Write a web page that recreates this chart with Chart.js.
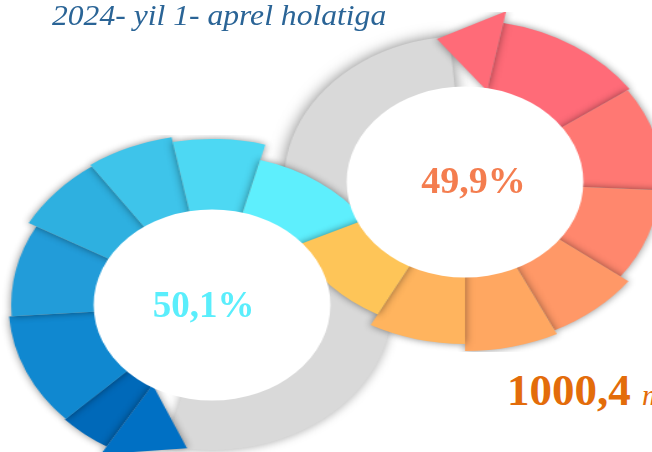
<!DOCTYPE html>
<html><head><meta charset="utf-8">
<script src="https://cdn.jsdelivr.net/npm/chart.js@4.4.0/dist/chart.umd.min.js"></script>
<style>
html,body{margin:0;padding:0;background:#fff;width:652px;height:452px;overflow:hidden;position:relative;}
.layer{position:absolute;width:340px;height:340px;transform:scaleX(1.24);transform-origin:50% 50%;}
.layer canvas{display:block;}
.left{left:41.5px;top:134.5px;}
.right{left:294.5px;top:12px;}
.txt{position:absolute;white-space:nowrap;line-height:1;font-family:"Liberation Serif","Times New Roman",serif;}
</style></head><body>
<div class="layer left"><canvas id="leftGray" width="340" height="340"></canvas></div>
<div class="layer right"><canvas id="rightGray" width="340" height="340"></canvas></div>
<div class="layer left"><canvas id="leftRing" width="340" height="340"></canvas></div>
<div class="layer right"><canvas id="rightRing" width="340" height="340"></canvas></div>
<div class="layer left"><canvas id="leftHole" width="340" height="340"></canvas></div>
<div class="layer right"><canvas id="rightHole" width="340" height="340"></canvas></div>

<div class="txt" id="title" style="left:52px;top:1px;font-size:29px;font-style:italic;color:#2a6496;transform:scaleX(1.09);transform-origin:0 0;"></div>
<div class="txt" id="leftPct" style="left:203.5px;top:286px;font-size:37px;font-weight:bold;color:#5aeefc;transform:translateX(-50%);"></div>
<div class="txt" id="rightPct" style="left:473.5px;top:161px;font-size:38px;font-weight:bold;color:#f47d4f;transform:translateX(-50%);"></div>
<div class="txt" id="total" style="left:507px;top:368px;font-size:45px;color:#e36c0a;"><b id="totalNum"></b> <i id="totalUnit" style="font-size:30px;"></i></div>

<script>
// ---- text ----
const titleText = "2024- yil 1- aprel holatiga";
const leftShare = "50,1%";
const rightShare = "49,9%";
const totalValue = "1000,4";
const totalUnit = "mlrd so‘m";

// ---- left ring (blue), clockwise from arrow tip; first slice is the arrow ----
const leftLabels = ["arrow", "b7", "b6", "b5", "b4", "b3", "b2", "b1"];
const leftSegments = [23, 15, 40, 33, 26, 24, 26, 40];
const leftColors = ["#0070c4", "#0069b9", "#1088d0", "#229cd9", "#2eb0e0", "#3ec4ea", "#4dd8f3", "#5eeffd"];
const leftOuterRadii = [null, 165, 164, 162, 169, 171, 166, 150];

// ---- right ring (warm), clockwise from arrow tip; first slice is the arrow ----
const rightLabels = ["arrow", "r1", "r2", "r3", "r4", "r5", "r6", "r7"];
const rightSegments = [20, 44, 38, 34, 27, 26, 28, 37];
const rightColors = ["#ff6b78", "#ff6b78", "#ff7873", "#ff876d", "#ff9867", "#ffa761", "#ffb45e", "#fec558"];
const rightOuterRadii = [null, 162, 160, 157, 165, 169, 162, 150];

// ---- grey tracks (span in degrees) ----
const leftTrack = [150];
const rightTrack = [120];
const trackColor = "#d9d9d9";

document.getElementById("title").textContent = titleText;
document.getElementById("leftPct").textContent = leftShare;
document.getElementById("rightPct").textContent = rightShare;
document.getElementById("totalNum").textContent = totalValue;
document.getElementById("totalUnit").textContent = totalUnit;

const CLEAR = "rgba(0,0,0,0)";

const shadowPlugin = {
  id: "shadowArrow",
  afterDatasetUpdate(chart, args, opts) {
    if (!opts.radii) return;
    args.meta.data.forEach((el, i) => {
      if (opts.radii[i]) el.outerRadius = opts.radii[i];
    });
  },
  beforeDatasetsDraw(chart, args, opts) {
    const ctx = chart.ctx;
    ctx.save();
    if (opts.shadow) {
      ctx.shadowColor = opts.shadow;
      ctx.shadowBlur = opts.blur || 8;
      ctx.shadowOffsetX = opts.dx || 0;
      ctx.shadowOffsetY = opts.dy || 0;
    }
  },
  afterDatasetsDraw(chart, args, opts) {
    const ctx = chart.ctx;
    if (opts.arrow) {
      const el = chart.getDatasetMeta(0).data[0];
      const p = el.getProps(["x", "y", "startAngle", "endAngle", "innerRadius", "outerRadius"], true);
      const pt = (a, r) => [p.x + Math.cos(a) * r, p.y + Math.sin(a) * r];
      const b1 = pt(p.endAngle, 93);
      const b2 = pt(p.endAngle, p.outerRadius + 12);
      const tip = pt(p.startAngle, 93 + 0.75 * (p.outerRadius - 93));
      ctx.beginPath();
      ctx.moveTo(b1[0], b1[1]);
      ctx.lineTo(b2[0], b2[1]);
      ctx.lineTo(tip[0], tip[1]);
      ctx.closePath();
      ctx.fillStyle = opts.arrow;
      ctx.fill();
    }
    ctx.restore();
  }
};

// full-circle doughnut; the part not covered by the values is a transparent gap
function ring(id, labels, values, colors, rotation, radius, cutout, pluginOpts) {
  const used = values.reduce((a, b) => a + b, 0);
  const gap = 360 - used;
  return new Chart(document.getElementById(id), {
    type: "doughnut",
    data: {
      labels: gap > 0 ? labels.concat(["gap"]) : labels,
      datasets: [{
        data: gap > 0 ? values.concat([gap]) : values,
        backgroundColor: gap > 0 ? colors.concat([CLEAR]) : colors,
        borderWidth: 0
      }]
    },
    options: {
      responsive: false,
      animation: false,
      events: [],
      rotation: rotation,
      radius: radius,
      cutout: cutout,
      layout: { padding: 0 },
      plugins: { legend: { display: false }, tooltip: { enabled: false }, shadowArrow: pluginOpts }
    },
    plugins: [shadowPlugin]
  });
}

// grey tracks
ring("leftGray", ["track"], leftTrack, [trackColor], 45, 145, "50%", { shadow: "rgba(0,0,0,0.35)", blur: 10 });
ring("rightGray", ["track"], rightTrack, [trackColor], -125, 146, "50%", { shadow: "rgba(0,0,0,0.5)", blur: 14 });

// coloured rings (arrow slice drawn as a triangle by the plugin)
const leftBg = leftColors.map((c, i) => i === 0 ? CLEAR : c);
const rightBg = rightColors.map((c, i) => i === 0 ? CLEAR : c);
ring("leftRing", leftLabels, leftSegments, leftBg, -172, 162, "50%", { shadow: "rgba(0,0,0,0.45)", blur: 7, arrow: leftColors[0], radii: leftOuterRadii });
ring("rightRing", rightLabels, rightSegments, rightBg, -9, 162, "50%", { shadow: "rgba(0,0,0,0.45)", blur: 7, arrow: rightColors[0], radii: rightOuterRadii });

// white centres
ring("leftHole", ["centre"], [360], ["#ffffff"], 0, 95.5, 0, {});
ring("rightHole", ["centre"], [360], ["#ffffff"], 0, 95.5, 0, {});
</script>
</body></html>
